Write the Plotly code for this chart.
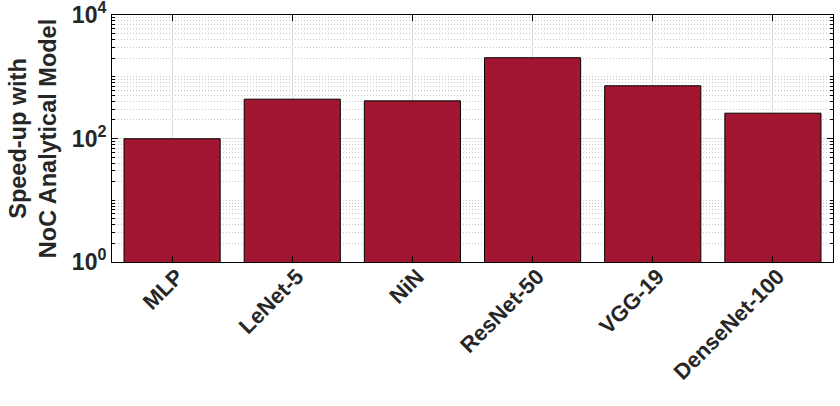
import plotly.graph_objects as go

categories = ["MLP", "LeNet-5", "NiN", "ResNet-50", "VGG-19", "DenseNet-100"]
speedup = [99, 433, 407, 2030, 714, 257]
ytick_vals = [1, 100, 10000]
ytick_text = ["10<sup>0</sup>", "10<sup>2</sup>", "10<sup>4</sup>"]
minor_vals = [m * 10 ** k for k in range(0, 4) for m in range(2, 11) if m * 10 ** k not in (100, 10000)]

font = "Liberation Sans, Arial, sans-serif"
txt = "#262626"

fig = go.Figure()
fig.add_trace(go.Bar(
    x=categories, y=speedup, width=0.8,
    marker=dict(color="#A31631", line=dict(color="black", width=1)),
))

fig.update_layout(
    width=840, height=406,
    margin=dict(l=112, r=7, t=15, b=144),
    plot_bgcolor="white", paper_bgcolor="white",
    showlegend=False,
    font=dict(family=font, color=txt),
)
fig.update_xaxes(
    range=[-0.5, 5.5],
    tickvals=categories,
    ticktext=["<b>%s</b>" % c for c in categories],
    tickangle=-45,
    tickfont=dict(size=22, family=font, color=txt),
    showline=True, linecolor="black", linewidth=1, mirror="ticks",
    ticks="inside", ticklen=6, tickcolor="black",
    showgrid=True, gridcolor="#dcdcdc", gridwidth=1,
    automargin=False,
    ticklabeloverflow="allow",
    ticklabelshift=5,
    ticklabelstandoff=-8,
)
fig.update_yaxes(
    type="log", range=[0, 4],
    tickvals=ytick_vals, ticktext=["<b>%s</b>" % t for t in ytick_text],
    tickfont=dict(size=23, family=font, color=txt),
    showline=True, linecolor="black", linewidth=1, mirror="ticks",
    ticks="inside", ticklen=6, tickcolor="black",
    showgrid=True, gridcolor="#dcdcdc", gridwidth=1,
    minor=dict(tickvals=minor_vals, showgrid=True, griddash="1px,2px",
               gridcolor="#c8c8c8", gridwidth=1, ticks="inside", ticklen=3,
               tickcolor="black"),
    title=dict(text="<b>Speed-up with<br>NoC Analytical Model</b>",
               font=dict(size=23.5, family=font, color=txt), standoff=8),
    zeroline=False,
    automargin=False,
    ticklabeloverflow="allow",
)

fig.write_html("out.html", config={"displayModeBar": False},
               post_script="document.body.style.margin='0';")
